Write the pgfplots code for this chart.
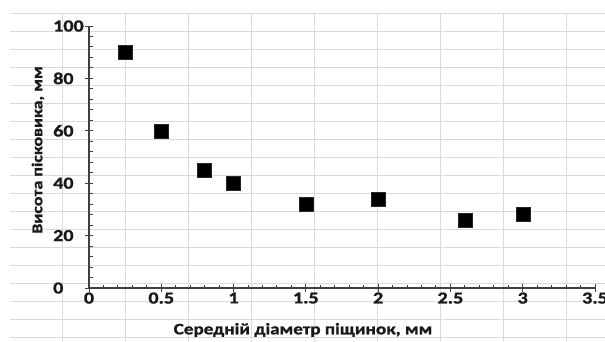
\documentclass[border=0pt]{standalone}
\usepackage{fontspec}
\setmainfont{Carlito}[FakeStretch=1.2, BoldFeatures={FakeBold=1.2}]
\usepackage{pgfplots}
\pgfplotsset{compat=1.18}
\definecolor{cellgrid}{RGB}{218,218,218}
\definecolor{axisgray}{RGB}{64,64,64}
\begin{document}
\begin{tikzpicture}
\path[use as bounding box] (0,0) rectangle (605bp,-342bp);
\begin{scope}[x=1bp,y=-1bp]
\clip (0,0) rectangle (605,342);
\foreach \yy in {13,31,...,337} \draw[cellgrid,line width=0.9bp] (10,\yy) -- (605,\yy);
\foreach \xx in {62,125,188,251,314,377,440,503,566} \draw[cellgrid,line width=0.9bp] (\xx,13) -- (\xx,342);
\end{scope}
\begin{axis}[
  at={(89bp,-288bp)}, anchor=south west,
  width=506bp, height=262bp, scale only axis,
  xmin=0, xmax=3.5, ymin=0, ymax=100,
  axis x line=bottom, axis y line=left,
  axis line style={-, axisgray, line width=1.2bp},
  xtick={0,0.5,...,3.5}, ytick={0,20,...,100},
  xticklabels={0,0.5,1,1.5,2,2.5,3,3.5},
  minor x tick num=4, minor y tick num=4,
  tick align=inside,
  major tick length=8bp, minor tick length=3.5bp,
  tick style={axisgray, line width=1bp},
  every major x tick/.append style={yshift=-4bp},
  every major y tick/.append style={xshift=-4bp},
  /pgf/number format/assume math mode=true,
  tick label style={font=\bfseries\fontsize{16.8}{18}\selectfont, text=black!90},
  yticklabel style={anchor=west, inner sep=0pt, xshift=-36bp},
  xticklabel style={yshift=-1bp},
  clip=false,
]
\addplot[only marks, mark=square*, mark size=7bp, mark options={fill=black, draw=black!85}] coordinates {
(0.25,90) (0.5,60) (0.8,45) (1,40) (1.5,32) (2,34) (2.6,26) (3,28)
};
\end{axis}
\node[font=\bfseries\fontsize{16}{18}\selectfont, text=black!90] at (303bp,-330bp) {Середній діаметр піщинок, мм};
\node[rotate=90, font=\bfseries\fontsize{15}{18}\selectfont, text=black!90] at (38bp,-150bp) {Висота пісковика, мм};
\end{tikzpicture}
\end{document}
